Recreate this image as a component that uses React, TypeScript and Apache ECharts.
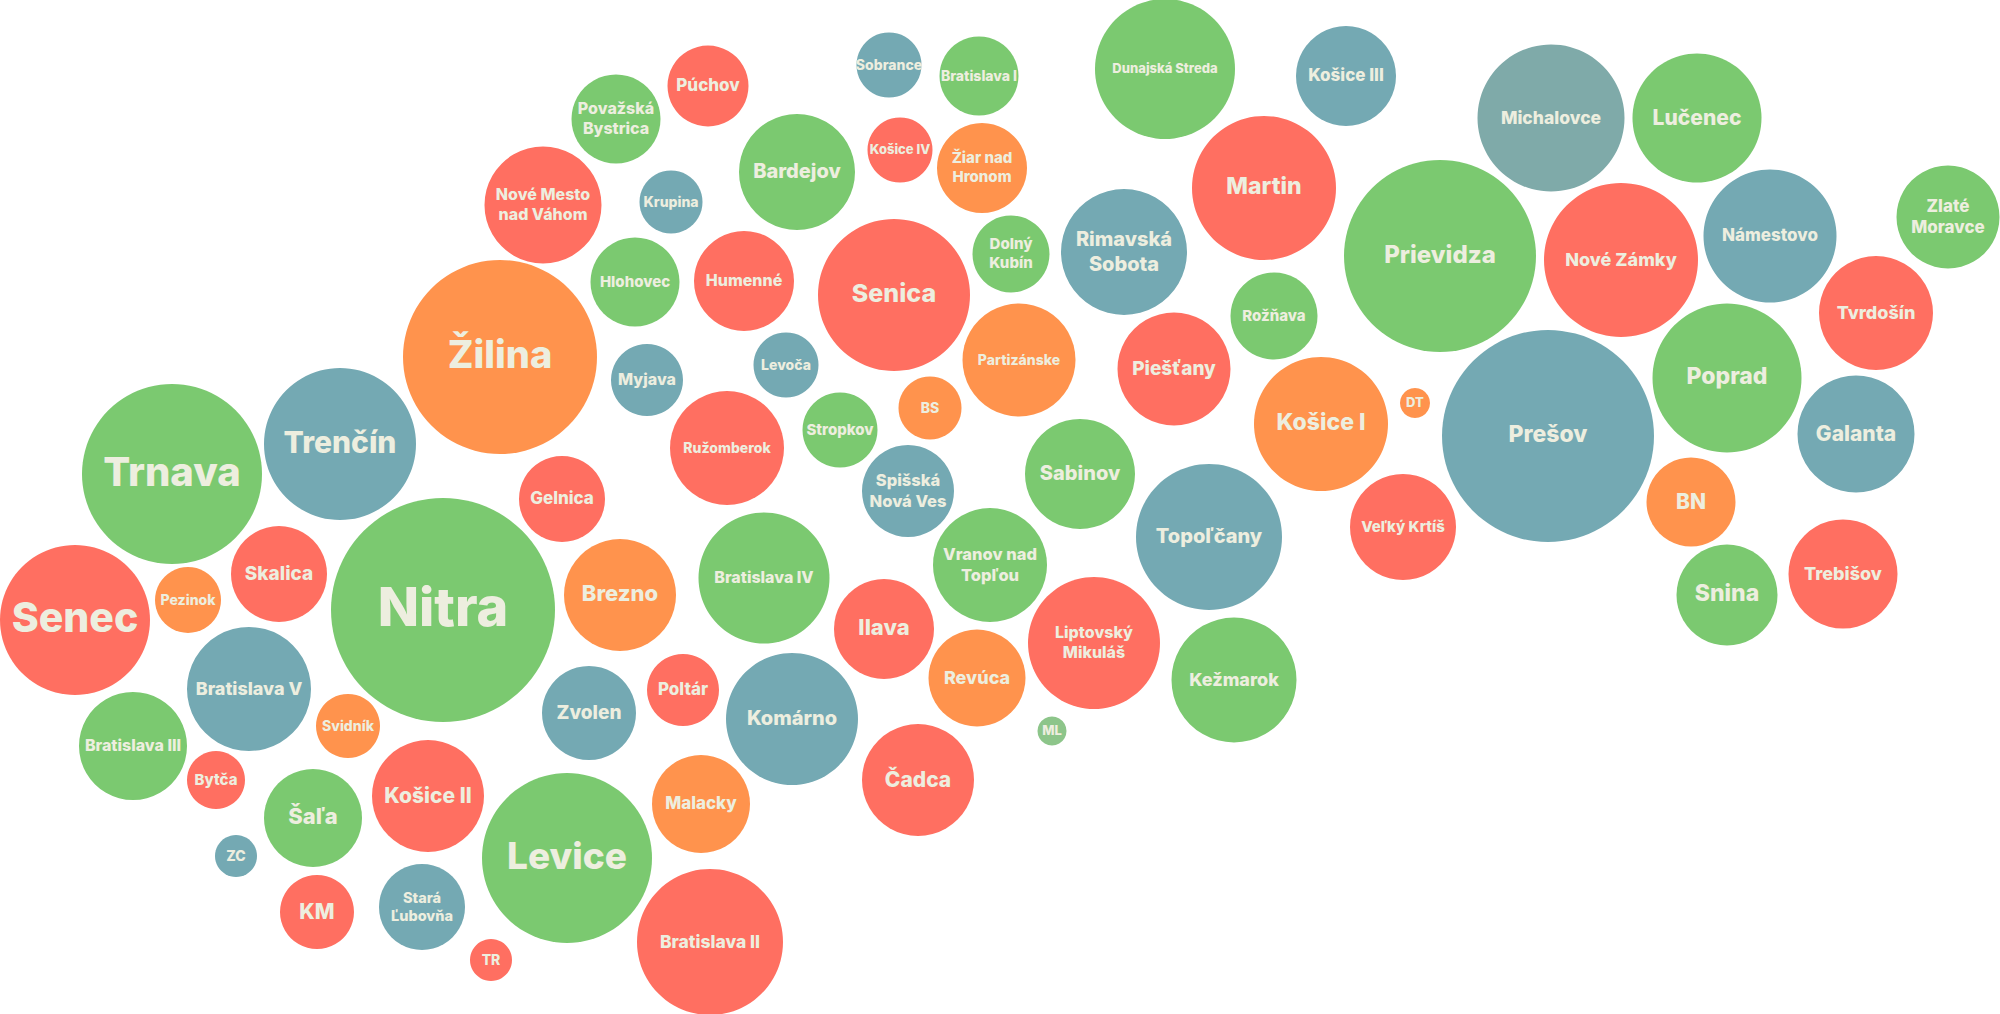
import React, { useEffect, useRef } from "react";
import * as echarts from "echarts";

// District names (line breaks as shown in the bubbles)
const names: string[] = [
  "Senec", "Pezinok", "Trnava", "Skalica", "Trenčín", "Bratislava V", "Bratislava III", "Svidník",
  "Bytča", "Šaľa", "ZC", "KM", "Stará\nĽubovňa", "TR", "Košice II", "Nitra", "Žilina", "Gelnica",
  "Levice", "Zvolen", "Brezno", "Poltár", "Malacky", "Bratislava II", "Komárno", "Čadca",
  "Bratislava IV", "Ilava", "Revúca", "ML", "Liptovský\nMikuláš", "Vranov nad\nTopľou", "Kežmarok",
  "Topoľčany", "Sabinov", "Spišská\nNová Ves", "Stropkov", "BS", "Ružomberok", "Levoča", "Myjava",
  "Hlohovec", "Humenné", "Krupina", "Nové Mesto\nnad Váhom", "Považská\nBystrica", "Púchov",
  "Bardejov", "Sobrance", "Bratislava I", "Košice IV", "Žiar nad\nHronom", "Senica", "Dolný\nKubín",
  "Partizánske", "Rimavská\nSobota", "Piešťany", "Dunajská Streda", "Košice III", "Martin", "Rožňava",
  "Košice I", "DT", "Veľký Krtíš", "Prievidza", "Michalovce", "Lučenec", "Nové Zámky", "Prešov",
  "Námestovo", "Zlaté\nMoravce", "Tvrdošín", "Poprad", "Galanta", "BN", "Snina", "Trebišov",
];

// Bubble positions (layout units) and radii
const xs: number[] = [
  75, 188, 172, 279, 340, 249, 133, 348, 216, 313, 236, 317, 422, 491, 428, 443, 500, 562,
  567, 589, 620, 683, 701, 710, 792, 918, 764, 884, 977, 1052, 1094, 990, 1234,
  1209, 1080, 908, 840, 930, 727, 786, 647, 635, 744, 671, 543, 616, 708,
  797, 889, 979, 900, 982, 894, 1011, 1019, 1124, 1174, 1165, 1346, 1264, 1274,
  1321, 1415, 1403, 1440, 1551, 1697, 1621, 1548, 1770, 1948, 1876, 1727, 1856, 1691, 1727, 1843,
];
const ys: number[] = [
  620, 600, 474, 574, 444, 689, 746, 726, 780, 818, 856, 912, 907, 960, 796, 610, 357, 499,
  858, 713, 595, 690, 804, 942, 719, 780, 578, 629, 678, 731, 643, 565, 680,
  537, 474, 491, 430, 408, 448, 365, 380, 282, 281, 202, 205, 119, 86,
  172, 65, 76, 150, 168, 295, 254, 360, 252, 369, 69, 76, 188, 316,
  424, 403, 527, 256, 118, 118, 260, 436, 236, 217, 313, 378, 434, 502, 595, 574,
];
const radii: number[] = [
  75, 33, 90, 48, 76, 62, 54, 32, 29, 49, 21, 37, 43, 21, 56, 112, 97, 43,
  85, 47, 56, 36, 49, 73, 66, 56, 65.5, 50, 48.5, 14.5, 66, 57, 62.5,
  73, 55, 46, 37.5, 31.5, 57, 32.5, 36, 44.5, 50, 31.5, 58.5, 44.5, 40.5,
  58, 32.5, 39.5, 32.5, 45, 76, 38.5, 56.5, 63, 56.5, 70, 50, 72, 43.5,
  67, 15, 53, 96, 73.5, 64.5, 77, 106, 66.5, 51.5, 57, 74.5, 58.5, 44.5, 50.5, 54.5,
];
// Colour group of each bubble
const groups: string[] = [
  "red", "orange", "green", "red", "blue", "blue", "green", "orange", "red", "green", "blue", "red", "blue", "red", "red", "green", "orange", "red",
  "green", "blue", "orange", "red", "orange", "red", "blue", "red", "green", "red", "orange", "pale", "red", "green", "green",
  "blue", "green", "blue", "green", "orange", "red", "blue", "blue", "green", "red", "blue", "red", "green", "red",
  "green", "blue", "green", "red", "orange", "red", "green", "orange", "blue", "red", "green", "blue", "red", "green",
  "orange", "orange", "red", "green", "grey", "green", "red", "blue", "blue", "green", "red", "green", "blue", "orange", "green", "red",
];

// Label font sizes (style table)
const labelSizes: number[] = [
  41, 14, 40, 19, 30, 18, 16, 14, 15, 22, 14, 21, 14.5, 14, 21, 54, 38, 17,
  37, 19, 22, 17, 17, 17.5, 20, 21, 16, 22, 18, 13, 16, 16.5, 18,
  20, 20, 16.5, 15, 14, 14, 14, 16, 15, 16, 14, 16, 16, 17,
  20, 14, 14, 13, 15, 25, 15, 14, 20, 19, 13, 17, 23, 15,
  23, 13, 15, 24, 17.5, 21, 18, 23, 17, 17, 18, 23, 21, 21, 23, 18,
];

const palette: Record<string, string> = {
  red: "#FF6F61",
  green: "#7BC970",
  blue: "#74A9B3",
  orange: "#FF934D",
  grey: "#7FAAA9",
  pale: "#8DC58A",
};

if (typeof document !== "undefined") {
  document.body.style.margin = "0";
}

export default function App() {
  const ref = useRef<HTMLDivElement>(null);
  useEffect(() => {
    if (!ref.current) return;
    document.body.style.margin = "0";
    const chart = echarts.init(ref.current, null, { renderer: "svg" });
    const data = names.map((n, i) => ({
      name: n,
      value: [xs[i], ys[i], radii[i]],
      itemStyle: { color: palette[groups[i]] },
      label: {
        fontSize: labelSizes[i],
        lineHeight: Math.round(labelSizes[i] * 1.25),
        offset: [0, -Math.round(labelSizes[i] * 0.07)],
      },
    }));
    chart.setOption({
      animation: false,
      backgroundColor: "#ffffff",
      grid: { left: 0, right: 0, top: 0, bottom: 0 },
      xAxis: { type: "value", min: 0, max: 2000, show: false },
      yAxis: { type: "value", min: 0, max: 1014, inverse: true, show: false },
      tooltip: { show: false },
      series: [
        {
          type: "scatter",
          clip: false,
          data,
          symbol: "circle",
          symbolSize: (v: number[]) => v[2] * 2,
          itemStyle: { opacity: 1 },
          label: {
            show: true,
            position: "inside",
            formatter: (p: any) => p.name,
            color: "#EDEEDF",
            fontFamily: "Inter, 'Noto Sans', sans-serif",
            fontWeight: 800,
            align: "center",
          },
          emphasis: { disabled: true },
        },
      ],
    });
    return () => chart.dispose();
  }, []);
  return <div ref={ref} style={{ width: 2000, height: 1014, margin: 0 }} />;
}
